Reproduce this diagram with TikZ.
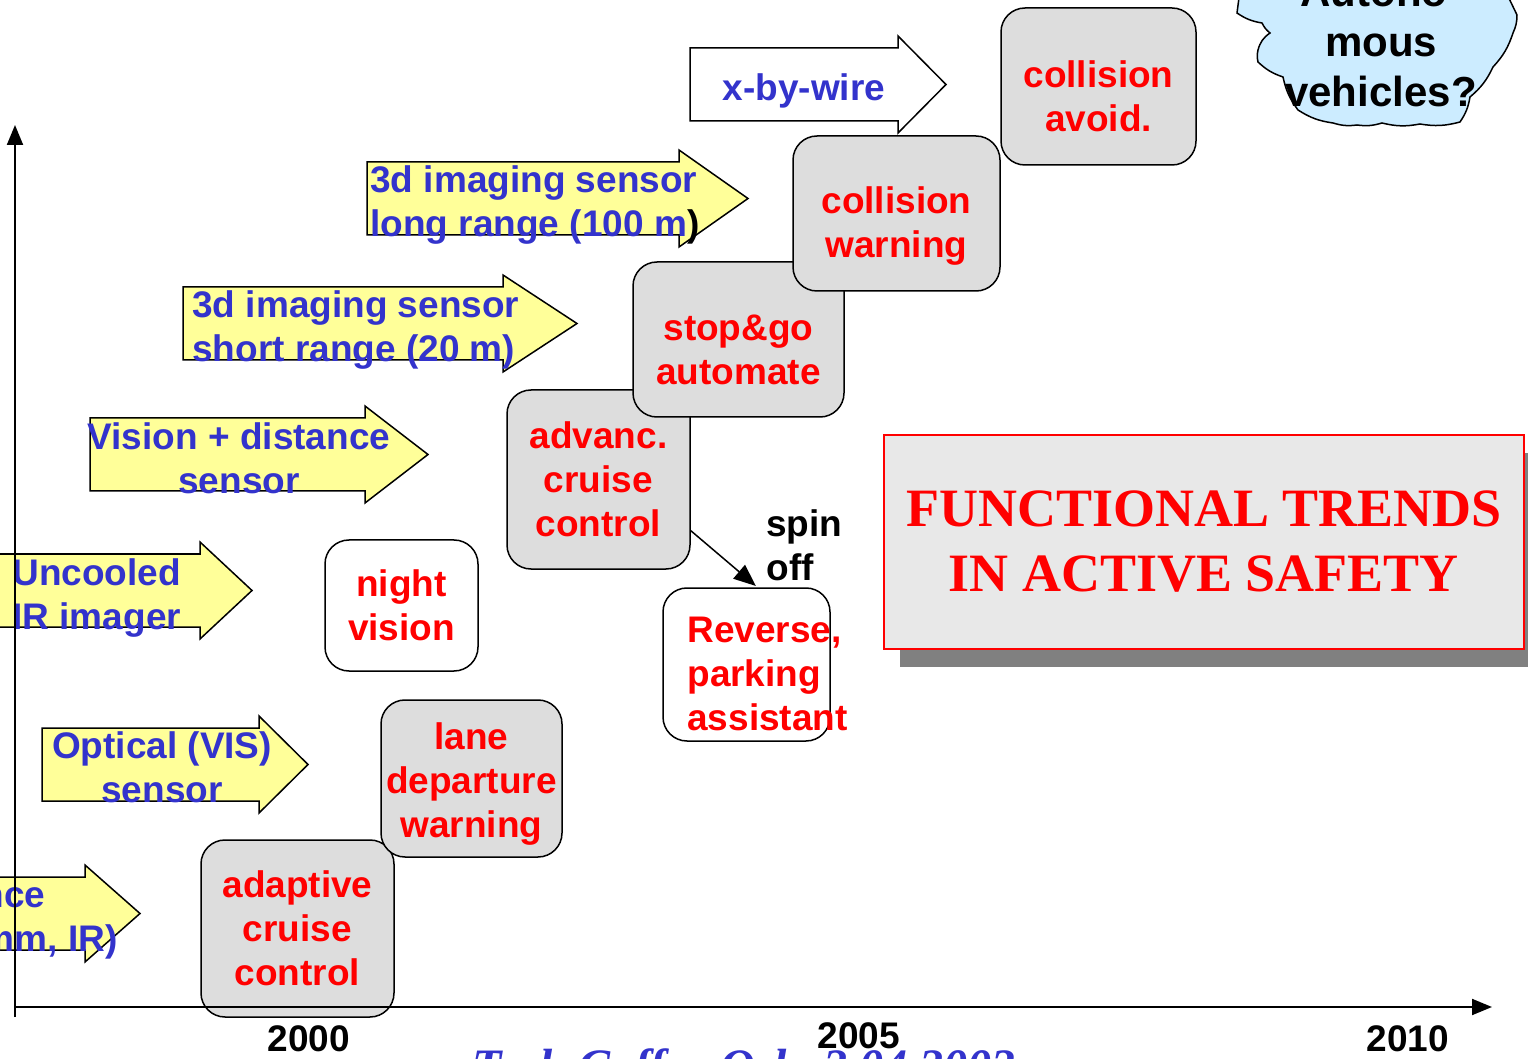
\documentclass[tikz,border=0pt]{standalone}
\usepackage{fontspec}
\setmainfont{Liberation Sans}
\newfontfamily\titleserif{Liberation Serif}
\usetikzlibrary{arrows.meta}
\usetikzlibrary{shadows}

\definecolor{safetyred}{HTML}{FF0000}
\definecolor{sensorblue}{HTML}{3333CC}
\definecolor{arrowyellow}{HTML}{FFFF99}
\definecolor{boxgray}{HTML}{DDDDDD}
\definecolor{cloudblue}{HTML}{CCECFF}
\definecolor{titlegray}{HTML}{E8E8E8}
\definecolor{shadowgray}{HTML}{808080}

\newcommand{\slidefont}{\fontsize{18.5}{22}\selectfont\bfseries}
\newcommand{\techarrow}[6][arrowyellow]{%
  \path[arrowline,fill=#1] (#2,#3) -- (#4,#3) -- (#4,#3-12) -- (#6,{(#3+#5)/2}) -- (#4,#5+12) -- (#4,#5) -- (#2,#5) -- cycle;}

\begin{document}
\begin{tikzpicture}[x=0.5pt,y=-0.5pt,
  arrowline/.style={draw,line width=0.75pt},
  sensortext/.style={inner sep=0pt,text=sensorblue,font=\slidefont},
  boxtext/.style={inner sep=0pt,align=center,text=safetyred,font=\slidefont},
  funcbox/.style={draw,line width=0.75pt,fill=boxgray,rounded corners=12pt,inner sep=0pt,align=center,text=safetyred,font=\slidefont},
  newbox/.style={funcbox,fill=white},
  axis/.style={line width=1pt,-{Triangle[length=10pt,width=8pt]}}]
  \useasboundingbox (0,0) rectangle (1528,1059);
  \fill[white] (0,0) rectangle (1528,1059);
  \clip (0,0) rectangle (1528,1059);

  %sensor arrows
  \techarrow[white]{690}{48}{898}{121}{946}
  \node[sensortext] (xbw) at (804,91) {x-by-wire};
  \techarrow{367}{162}{679}{235}{748}
  \node[sensortext,align=left,anchor=west] (lr) at (370,205) {3d imaging sensor\\long range (100 m\textcolor{black}{)}};
  \techarrow{183}{287}{503}{360}{577}
  \node[sensortext,align=left,anchor=west] (sr) at (192,330) {3d imaging sensor\\short range (20 m)};
  \techarrow{90}{418}{365}{491}{428}
  \node[sensortext,align=center] (vd) at (239,458) {Vision + distance\\sensor};
  \techarrow{-20}{554}{200}{627}{252}
  \node[sensortext,align=left,anchor=west] (uc) at (12,598) {Uncooled\\IR imager};
  \techarrow{42}{728}{259}{801}{308}
  \node[sensortext,align=center] (op) at (162,767) {Optical (VIS)\\sensor};
  \techarrow{-20}{877}{85}{950}{140}
  \node[sensortext,align=center] (ld) at (-80,920) {Long distance\\(77 GHz radar, mm, IR)};

  %functions
  \node[funcbox,minimum width=96.5pt,minimum height=88.5pt] (acc0) at (297.5,928.5) {adaptive\\cruise\\control};
  \node[funcbox,minimum width=90.5pt,minimum height=78.5pt,label={[boxtext,yshift=-3pt]center:{lane\\departure\\warning}}] (ldw) at (471.5,778.5) {};
  \node[newbox,minimum width=76.5pt,minimum height=65.5pt] (nv) at (401.5,605.5) {night\\vision};
  \node[funcbox,minimum width=91.5pt,minimum height=89.5pt] (acc) at (598.5,479.5) {advanc.\\cruise\\control};
  \node[funcbox,minimum width=105.5pt,minimum height=77.5pt,label={[boxtext,yshift=-5pt]center:{stop\&go\\automate}}] (sg) at (738.5,339.5) {};
  \node[funcbox,minimum width=103.5pt,minimum height=77.5pt,label={[boxtext,yshift=-6.5pt]center:{collision\\warning}}] (cw) at (896.5,213.5) {};
  \node[funcbox,minimum width=97.5pt,minimum height=78.5pt,label={[boxtext,yshift=-5pt]center:{collision\\avoid.}}] (ca) at (1098.5,86.5) {};
  %spin off
  \node[newbox,minimum width=83.5pt,minimum height=76.5pt] (rev) at (746.5,664.5) {};
  \node[sensortext,text=safetyred,align=left,anchor=west] (revtext) at (687,674) {Reverse,\\parking\\assistant};
  \node[inner sep=0pt,font=\slidefont,align=left,anchor=west] (spin) at (766,545) {spin\\off};
  \draw[line width=0.75pt,-{Triangle[length=11pt,width=9pt]},shorten >=1pt] (acc.-29) -- (rev.82);

  %cloud
  \path[draw,line width=0.75pt,fill=cloudblue] (1240,-10) -- (1237,13) to[bend right=12] (1262,23) to[bend right=12] (1270,33) to[bend right=20] (1258,50) to[bend right=12] (1258,62) to[bend right=12] (1283,77) to[bend right=12] (1298,110) to[bend right=12] (1333,123) to[bend right=12] (1357,125) to[bend right=12] (1382,123) to[bend right=12] (1420,124) to[bend right=12] (1460,122) to[bend right=12] (1470,97) to[bend right=12] (1493,67) to[bend right=12] (1513,33) to[bend right=12] (1517,15) -- (1505,-10) -- cycle;
  \node[inner sep=0pt,align=center,font=\fontsize{21}{25}\selectfont\bfseries] (auto) at (1381,42) {Autono-\\mous\\vehicles?};

  %title
  \node[draw=safetyred,line width=0.75pt,fill=titlegray,minimum width=320pt,minimum height=107pt,align=center,text=safetyred,font=\titleserif\fontsize{27}{32.5}\selectfont\bfseries,drop shadow={shadow xshift=8pt,shadow yshift=-9pt,fill=shadowgray,opacity=1}] (title) at (1204,542) {FUNCTIONAL TRENDS\\IN ACTIVE SAFETY};
  \node[anchor=base west,inner sep=0pt,text=sensorblue,font=\titleserif\fontsize{24}{28}\selectfont\bfseries\itshape] (foot) at (472,1082) {Tech Coffee Oslo 2.04.2003};

  %axes
  \coordinate (ybase) at (15,1017);
  \coordinate (ytip) at (15,125);
  \coordinate (origin) at (15,1007);
  \coordinate (xtip) at (1492,1007);
  \draw[axis] (ybase) -- (ytip);
  \draw[axis] (origin) -- (xtip);
  \node[inner sep=0pt,font=\slidefont] (y2000) at (309,1039) {2000};
  \node[inner sep=0pt,font=\slidefont] (y2005) at (859,1036) {2005};
  \node[inner sep=0pt,font=\slidefont] (y2010) at (1408,1039) {2010};
\end{tikzpicture}
\end{document}
